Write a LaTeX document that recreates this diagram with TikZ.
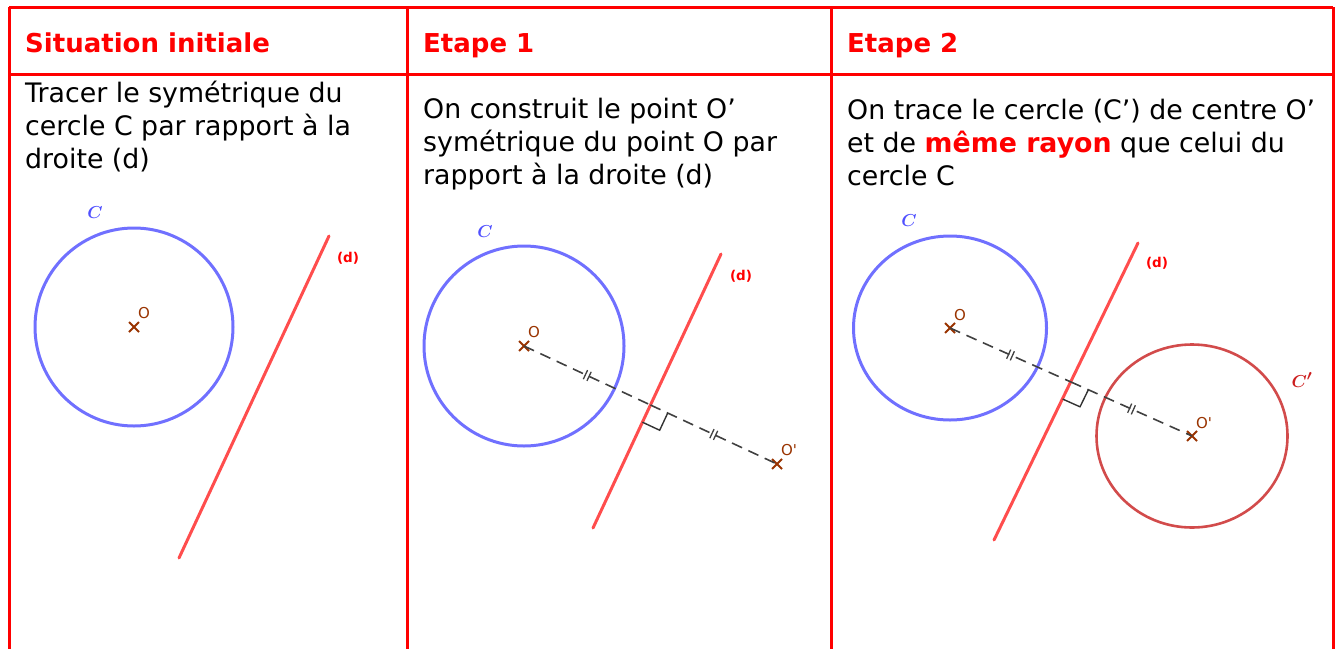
\documentclass[tikz,border=0pt]{standalone}
\usepackage{fontspec}
\setmainfont{DejaVu Sans}
\usepackage{bm}
\usepackage{xcolor}
\usepackage{tikz}
\usetikzlibrary{calc,shapes.misc,decorations.markings}

\definecolor{tabred}{RGB}{255,0,0}
\definecolor{cblue}{RGB}{112,112,255}
\definecolor{lblue}{RGB}{80,80,255}
\definecolor{dred}{RGB}{255,77,77}
\definecolor{cpred}{RGB}{210,75,75}
\definecolor{lpred}{RGB}{204,30,30}
\definecolor{ptbrown}{RGB}{153,51,0}
\definecolor{segray}{RGB}{64,64,64}

\tikzset{
  gridline/.style={tabred, line width=3pt},
  head/.style={anchor=base west, inner sep=0pt, text=tabred,
               font=\fontsize{26}{33}\selectfont\bfseries},
  body/.style={anchor=base west, inner sep=0pt, align=left,
               font=\fontsize{26.8}{33}\selectfont},
  circC/.style={draw=cblue, line width=3pt},
  circCp/.style={draw=cpred, line width=2.6pt},
  droite/.style={dred, line width=3pt, line cap=round},
  dlabel/.style={text=tabred, font=\fontsize{13.5}{14}\selectfont\bfseries, inner sep=0pt},
  clabel/.style={text=lblue, font=\fontsize{19}{19}\selectfont, inner sep=0pt},
  ptcross/.style={cross out, draw=ptbrown, line width=2pt, minimum size=8pt, inner sep=0pt},
  ptlabel/.style={text=ptbrown, font=\fontsize{15}{15}\selectfont, inner sep=0pt},
  tick/.style={postaction={decorate, decoration={markings,
      mark=at position 0.5 with {\draw[solid, line width=1.3pt]
        (-2pt,-5pt) -- (-2pt,5pt) (2pt,-5pt) -- (2pt,5pt);}}}},
  segment/.style={segray, line width=1.6pt, dash pattern=on 11pt off 7pt, tick},
  rangle/.style={black!80, line width=1.4pt},
}

\begin{document}
\begin{tikzpicture}[x=1pt, y=-1pt]

\useasboundingbox (0,0) rectangle (1340,648);

%% ── Table ─────────────────────────────────────────────────────────────────
\def\ytop{7}
\def\ysep{74}
\draw[gridline] (9,\ytop) -- (1333,\ytop);
\draw[gridline] (9,\ysep) -- (1333,\ysep);
\foreach \x in {9, 407, 831, 1333}{
  \draw[gridline] (\x,\ytop) -- (\x,650);
}

%% ── Headers ───────────────────────────────────────────────────────────────
\node[head] (h1) at (25,52)  {Situation initiale};
\node[head] (h2) at (423,52) {Etape 1};
\node[head] (h3) at (847,52) {Etape 2};

%% ── Texts (base = last line) ──────────────────────────────────────────────
\node[body] (t1) at (25,168) {Tracer le symétrique du\\cercle C par rapport à la\\droite (d)};
\node[body] (t2) at (423,184) {On construit le point O’\\symétrique du point O par\\rapport à la droite (d)};
\node[body] (t3) at (847,185) {On trace le cercle (C’) de centre O’\\et de {\color{tabred}\bfseries même rayon} que celui du\\cercle C};

%% ── Situation initiale ────────────────────────────────────────────────────
\node[ptcross] (O1) at (134,327) {};
\draw[circC] (O1.center) circle[radius=99pt];
\node[clabel] (C1) at (95,213) {$\bm{C}$};
\node[ptlabel] (lO1) at (144,313) {O};
\coordinate (d1a) at (329,236);
\coordinate (d1b) at (179,558);
\draw[droite] (d1a) -- (d1b);
\node[dlabel] (ld1) at (348,258) {(d)};

%% ── Etape 1 ───────────────────────────────────────────────────────────────
\node[ptcross] (O2) at (524,346) {};
\node[ptcross] (O2p) at (777,464) {};
\draw[circC] (O2.center) circle[radius=100pt];
\node[clabel] (C2) at (485,232) {$\bm{C}$};
\node[ptlabel] (lO2) at (534,332) {O};
\node[ptlabel] (lO2p) at (789,450) {O\textquotesingle};
\coordinate (d2a) at (721,254);
\coordinate (d2b) at (593,528);
\draw[droite] (d2a) -- (d2b);
\node[dlabel] (ld2) at (741,276) {(d)};
\coordinate (H2) at ($(O2.center)!0.5!(O2p.center)$);
\draw[segment] (O2.center) -- (H2);
\draw[segment] (H2) -- (O2p.center);
\coordinate (H2u) at ($(H2)!19pt!(O2p.center)$);
\coordinate (H2v) at ($(H2)!19pt!(d2b)$);
\draw[rangle] (H2u) -- ($(H2u)+(H2v)-(H2)$) -- (H2v);

%% ── Etape 2 ───────────────────────────────────────────────────────────────
\node[ptcross] (O3) at (950,328) {};
\node[ptcross] (O3p) at (1192,436) {};
\draw[circC] (O3.center) ellipse[x radius=96.5pt, y radius=92pt];
\draw[circCp] (O3p.center) ellipse[x radius=95.5pt, y radius=91.5pt];
\node[clabel] (C3) at (909,221) {$\bm{C}$};
\node[clabel, text=lpred] (C3p) at (1302,380) {$\bm{C'}$};
\node[ptlabel] (lO3) at (960,315) {O};
\node[ptlabel] (lO3p) at (1204,423) {O\textquotesingle};
\coordinate (d3a) at (1138,243);
\coordinate (d3b) at (994,540);
\draw[droite] (d3a) -- (d3b);
\node[dlabel] (ld3) at (1157,263) {(d)};
\coordinate (H3) at ($(O3.center)!0.5!(O3p.center)$);
\draw[segment] (O3.center) -- (H3);
\draw[segment] (H3) -- (O3p.center);
\coordinate (H3u) at ($(H3)!19pt!(O3p.center)$);
\coordinate (H3v) at ($(H3)!19pt!(d3b)$);
\draw[rangle] (H3u) -- ($(H3u)+(H3v)-(H3)$) -- (H3v);

\end{tikzpicture}
\end{document}
